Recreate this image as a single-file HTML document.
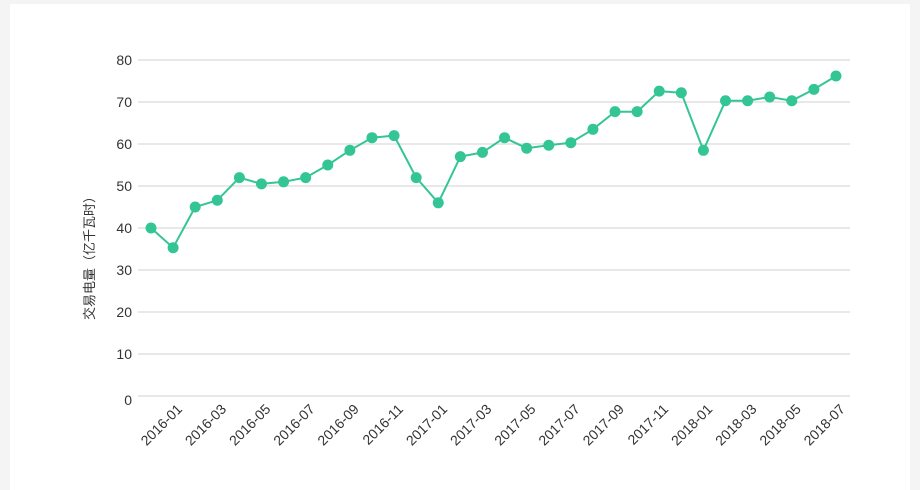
<!DOCTYPE html>
<html><head><meta charset="utf-8"><style>
html,body{margin:0;padding:0;background:#f4f4f4;}
svg{display:block;}
</style></head><body>
<svg width="920" height="490" xmlns="http://www.w3.org/2000/svg" font-family="'Liberation Sans','Noto Sans CJK SC',sans-serif">
<rect x="0" y="0" width="920" height="490" fill="#f4f4f4"/>
<rect x="10" y="4" width="900" height="486" fill="#ffffff"/>
<g stroke="#e0e0e0" stroke-width="1.5">
<line x1="138" x2="850" y1="60" y2="60"/><line x1="138" x2="850" y1="102" y2="102"/>
<line x1="138" x2="850" y1="144" y2="144"/><line x1="138" x2="850" y1="186" y2="186"/>
<line x1="138" x2="850" y1="228" y2="228"/><line x1="138" x2="850" y1="270" y2="270"/>
<line x1="138" x2="850" y1="312" y2="312"/><line x1="138" x2="850" y1="354" y2="354"/>
<line x1="138" x2="850" y1="396" y2="396"/>
</g>
<g font-size="14" fill="#333" text-anchor="end">
<text x="132" y="65">80</text><text x="132" y="107">70</text><text x="132" y="149">60</text>
<text x="132" y="191">50</text><text x="132" y="233">40</text><text x="132" y="275">30</text>
<text x="132" y="317">20</text><text x="132" y="359">10</text><text x="132" y="405">0</text>
</g>
<text transform="translate(94,255) rotate(-90)" font-size="13" fill="#333" text-anchor="middle">交易电量（亿千瓦时）</text>
<g id="chart"></g>
<script>
var v=[40,35.3,45,46.6,52,50.5,51,52,55,58.5,61.5,62,52,46,57,58,61.5,59,59.7,60.3,63.5,67.7,67.7,72.6,72.2,58.5,70.3,70.3,71.2,70.3,73,76.2];
var g=document.getElementById('chart'),ns='http://www.w3.org/2000/svg';
function X(i){return 151+i*(836-151)/31;}
function Y(d){return 396-d*4.2;}
var pts=v.map(function(d,i){return X(i).toFixed(1)+','+Y(d).toFixed(1);}).join(' ');
var pl=document.createElementNS(ns,'polyline');
pl.setAttribute('points',pts);pl.setAttribute('fill','none');pl.setAttribute('stroke','#33c595');pl.setAttribute('stroke-width','2');
g.appendChild(pl);
v.forEach(function(d,i){var c=document.createElementNS(ns,'circle');c.setAttribute('cx',X(i));c.setAttribute('cy',Y(d));c.setAttribute('r','5.5');c.setAttribute('fill','#33c595');g.appendChild(c);});
var lab=['2016-01','2016-03','2016-05','2016-07','2016-09','2016-11','2017-01','2017-03','2017-05','2017-07','2017-09','2017-11','2018-01','2018-03','2018-05','2018-07'];
lab.forEach(function(l,k){var t=document.createElementNS(ns,'text');var x=X(2*k)+32,y=410;
t.setAttribute('transform','translate('+x+','+y+') rotate(-45)');t.setAttribute('text-anchor','end');t.setAttribute('font-size','14');t.setAttribute('fill','#333');t.textContent=l;g.appendChild(t);});
</script>
</svg>
</body></html>
